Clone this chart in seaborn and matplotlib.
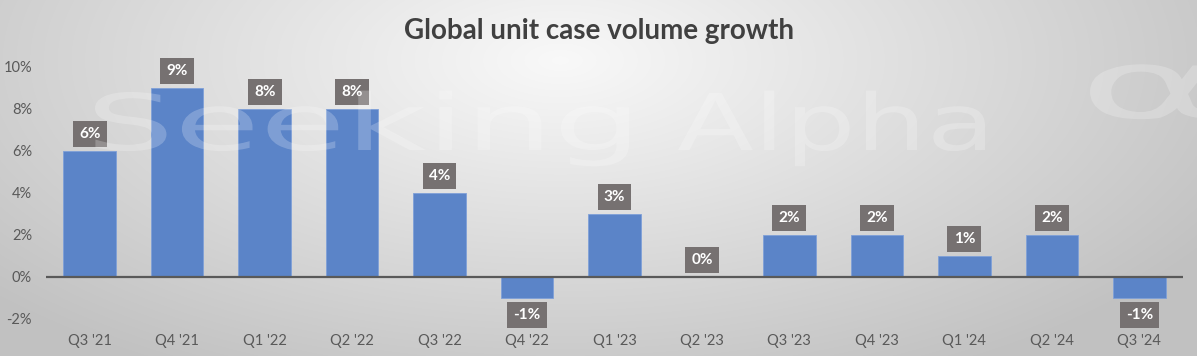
import numpy as np
import matplotlib
matplotlib.use("Agg")
import matplotlib.pyplot as plt
import seaborn as sns
from matplotlib.textpath import TextPath
from matplotlib.patches import PathPatch
from matplotlib.font_manager import FontProperties
from matplotlib.transforms import Affine2D

quarters = ["Q3 '21", "Q4 '21", "Q1 '22", "Q2 '22", "Q3 '22", "Q4 '22", "Q1 '23",
            "Q2 '23", "Q3 '23", "Q4 '23", "Q1 '24", "Q2 '24", "Q3 '24"]
growth = [6, 9, 8, 8, 4, -1, 3, 0, 2, 2, 1, 2, -1]
y_ticks = [-2, 0, 2, 4, 6, 8, 10]
y_tick_labels = ["-2%", "0%", "2%", "4%", "6%", "8%", "10%"]

sns.set_theme(style="white")
plt.rcParams['font.family'] = ['Lato', 'DejaVu Sans']

W, H = 1197, 356
fig = plt.figure(figsize=(W / 100, H / 100), dpi=100)

# radial gradient background
bg = fig.add_axes([0, 0, 1, 1], zorder=0)
yy, xx = np.mgrid[0:H, 0:W]
d = np.sqrt(((xx - 560) / 700.0) ** 2 + ((yy - 60) / 330.0) ** 2)
val = np.clip(0.975 - 0.20 * d, 0.76, 0.98)
bg.imshow(np.dstack([val, val, val]), aspect="auto", extent=[0, 1, 0, 1], origin="upper")
bg.axis("off")

ax = fig.add_axes([46 / W, 1 - 319 / H, (1183 - 46) / W, (319 - 67) / H], zorder=1)
ax.patch.set_alpha(0)

sns.barplot(x=quarters, y=growth, color="#5B84C8", width=0.6, ax=ax,
            saturation=1, edgecolor="#7fa0d8", linewidth=0.6, zorder=2)

ax.set_xlim(-0.5, len(quarters) - 0.5)
ax.set_ylim(-2, 10)
ax.set_yticks(y_ticks)
ax.set_yticklabels(y_tick_labels)
ax.set_xlabel("")
ax.set_ylabel("")
for s in ax.spines.values():
    s.set_visible(False)
ax.axhline(0, color="#595959", lw=1.6, zorder=3)
ax.tick_params(axis="both", length=0, labelsize=10.5, colors="#595959")
ax.tick_params(axis="y", pad=10)
ax.tick_params(axis="x", pad=11)

for i, v in enumerate(growth):
    off, va = (7, "bottom") if v >= 0 else (-7, "top")
    ax.annotate(f"{v}%", (i, v), xytext=(0, off), textcoords="offset points",
                ha="center", va=va, color="white", fontsize=11, fontweight="bold",
                bbox=dict(boxstyle="square,pad=0.4", fc="#767171", ec="none"), zorder=5)

# watermark (stretched outline text, drawn in pixel coordinates)
fp = FontProperties(family="DejaVu Sans")
def watermark(word, x0, x1, baseline_from_top, cap_px):
    tp = TextPath((0, 0), word, size=100, prop=fp)
    ext = tp.get_extents()
    sx = (x1 - x0) / ext.width
    sy = cap_px / 72.9
    tr = Affine2D().translate(-ext.x0, 0).scale(sx, sy).translate(x0, H - baseline_from_top)
    patch = PathPatch(tp, transform=tr, fc="white", ec="none", alpha=0.22, zorder=4)
    fig.add_artist(patch)

watermark("Seeking", 95, 629, 150, 57)
watermark("Alpha", 678, 985, 150, 57)
watermark("α", 1090, 1215, 118, 70)

fig.text(0.5, 1 - 31 / H, "Global unit case volume growth", ha="center", va="center",
         fontsize=20, fontweight="bold", color="#404040")

fig.savefig("out.png", dpi=100)
